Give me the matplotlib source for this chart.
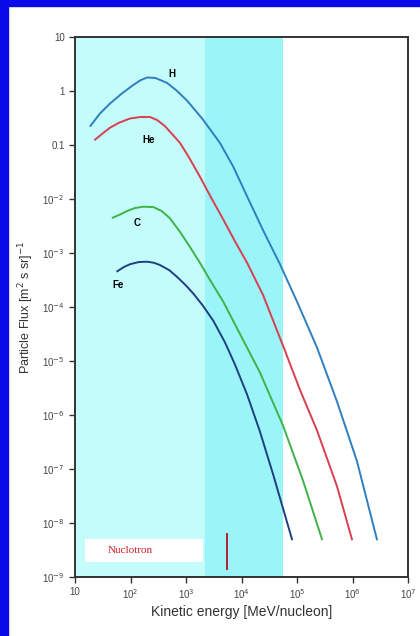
# Cosmic ray particle flux vs kinetic energy (H, He, C, Fe)
import matplotlib.pyplot as plt
from matplotlib.patches import Rectangle

plt.rcParams['font.family'] = ['Liberation Sans', 'DejaVu Sans']

# Data (energy in MeV/nucleon, flux in [m^2 s sr]^-1)
h_energy = [19, 28, 43, 71, 112, 151, 200, 282, 457, 692, 1050, 2000, 4070, 7080,
            12600, 25100, 49000, 1e5, 229000, 525000, 1.2e6, 2.75e6]
h_flux = [0.226, 0.38, 0.59, 0.91, 1.29, 1.58, 1.78, 1.74, 1.41, 1.0, 0.66, 0.30, 0.11, 0.040,
          0.0112, 2.5e-3, 6.3e-4, 1.26e-4, 1.78e-5, 1.78e-6, 1.41e-7, 5.0e-9]

he_energy = [23, 32, 43, 63, 98, 151, 224, 302, 417, 776, 1120, 1780, 2820, 4680,
             7590, 12600, 24500, 60300, 115000, 229000, 525000, 977000]
he_flux = [0.126, 0.166, 0.21, 0.26, 0.31, 0.33, 0.33, 0.29, 0.224, 0.11, 0.060, 0.026, 0.0107,
           4.2e-3, 1.66e-3, 6.6e-4, 1.66e-4, 1.58e-5, 2.8e-6, 5.2e-7, 4.8e-8, 5.0e-9]

c_energy = [48, 66, 87, 120, 170, 257, 363, 513, 794, 1175, 1780, 2690, 4680, 9330,
            21400, 56200, 129000, 282000]
c_flux = [4.5e-3, 5.2e-3, 6.0e-3, 6.8e-3, 7.2e-3, 7.1e-3, 6.0e-3, 4.4e-3, 2.4e-3, 1.3e-3,
          6.6e-4, 3.2e-4, 1.26e-4, 3.2e-5, 6.2e-6, 6.3e-7, 6.0e-8, 5.0e-9]

fe_energy = [58, 76, 98, 141, 200, 263, 339, 501, 692, 1000, 1350, 2000, 3090, 5010,
             7590, 12600, 21400, 37200, 81300]
fe_flux = [4.6e-4, 5.5e-4, 6.2e-4, 6.8e-4, 6.9e-4, 6.6e-4, 6.0e-4, 4.8e-4, 3.6e-4, 2.5e-4,
           1.78e-4, 1.07e-4, 5.6e-5, 2.24e-5, 8.7e-6, 2.4e-6, 5.0e-7, 7.9e-8, 5.0e-9]

x_ticks = [10, 1e2, 1e3, 1e4, 1e5, 1e6, 1e7]
x_labels = ['10', '10$^2$', '10$^3$', '10$^4$', '10$^5$', '10$^6$', '10$^7$']
y_ticks = [1e-9, 1e-8, 1e-7, 1e-6, 1e-5, 1e-4, 1e-3, 1e-2, 0.1, 1, 10]
y_labels = ['10$^{-9}$', '10$^{-8}$', '10$^{-7}$', '10$^{-6}$', '10$^{-5}$', '10$^{-4}$',
            '10$^{-3}$', '10$^{-2}$', '0.1', '1', '10']

fig = plt.figure(figsize=(4.2, 6.36), dpi=100)
fig.patch.set_facecolor('white')
# blue frame on the left and top
fig.patches.append(Rectangle((0, 0), 8 / 420, 1, transform=fig.transFigure,
                             color='#0a0ae8', zorder=0))
fig.patches.append(Rectangle((0, 1 - 6 / 636), 1, 6 / 636, transform=fig.transFigure,
                             color='#0a0ae8', zorder=0))

ax = fig.add_axes([75 / 420, 1 - 577 / 636, 333 / 420, 540 / 636])
ax.set_xscale('log')
ax.set_yscale('log')
ax.set_xlim(10, 1e7)
ax.set_ylim(1e-9, 10)

# shaded energy ranges
ax.axvspan(10, 2200, color='#c4fbfb', lw=0, zorder=0)
ax.axvspan(2200, 56000, color='#9af4f8', lw=0, zorder=0)

ax.plot(h_energy, h_flux, color='#2f7fbf', lw=1.4)
ax.plot(he_energy, he_flux, color='#d8404f', lw=1.4)
ax.plot(c_energy, c_flux, color='#3fb24a', lw=1.4)
ax.plot(fe_energy, fe_flux, color='#1e3f80', lw=1.4)

ax.text(560, 2.1, 'H', fontsize=7, fontweight='bold', ha='center', va='center')
ax.text(210, 0.126, 'He', fontsize=7, fontweight='bold', ha='center', va='center')
ax.text(132, 3.6e-3, 'C', fontsize=7, fontweight='bold', ha='center', va='center')
ax.text(59, 2.6e-4, 'Fe', fontsize=7, fontweight='bold', ha='center', va='center')

# Nuclotron marker
ax.add_patch(Rectangle((15, 1.9e-9), 2040 - 15, 5e-9 - 1.9e-9, color='white', lw=0, zorder=1))
ax.text(100, 3.1e-9, 'Nuclotron', fontsize=8, color='#d02030', ha='center', va='center',
        family=['Liberation Serif', 'DejaVu Serif'], zorder=2)
ax.plot([5500, 5500], [1.4e-9, 6.3e-9], color='#b01020', lw=1.3, zorder=2)

ax.set_xticks(x_ticks)
ax.set_xticklabels(x_labels)
ax.set_yticks(y_ticks)
ax.set_yticklabels(y_labels)
ax.minorticks_off()
ax.tick_params(labelsize=7, length=4, width=1, color='#333333', labelcolor='#444444')

for s in ax.spines.values():
    s.set_linewidth(1.4)
    s.set_color('#333333')

ax.set_xlabel('Kinetic energy [MeV/nucleon]', fontsize=10, color='#333333', labelpad=3)
ax.set_ylabel('Particle Flux [m$^2$ s sr]$^{-1}$', fontsize=9, color='#333333', labelpad=4)

fig.savefig('out.png', dpi=100, facecolor=fig.get_facecolor())
